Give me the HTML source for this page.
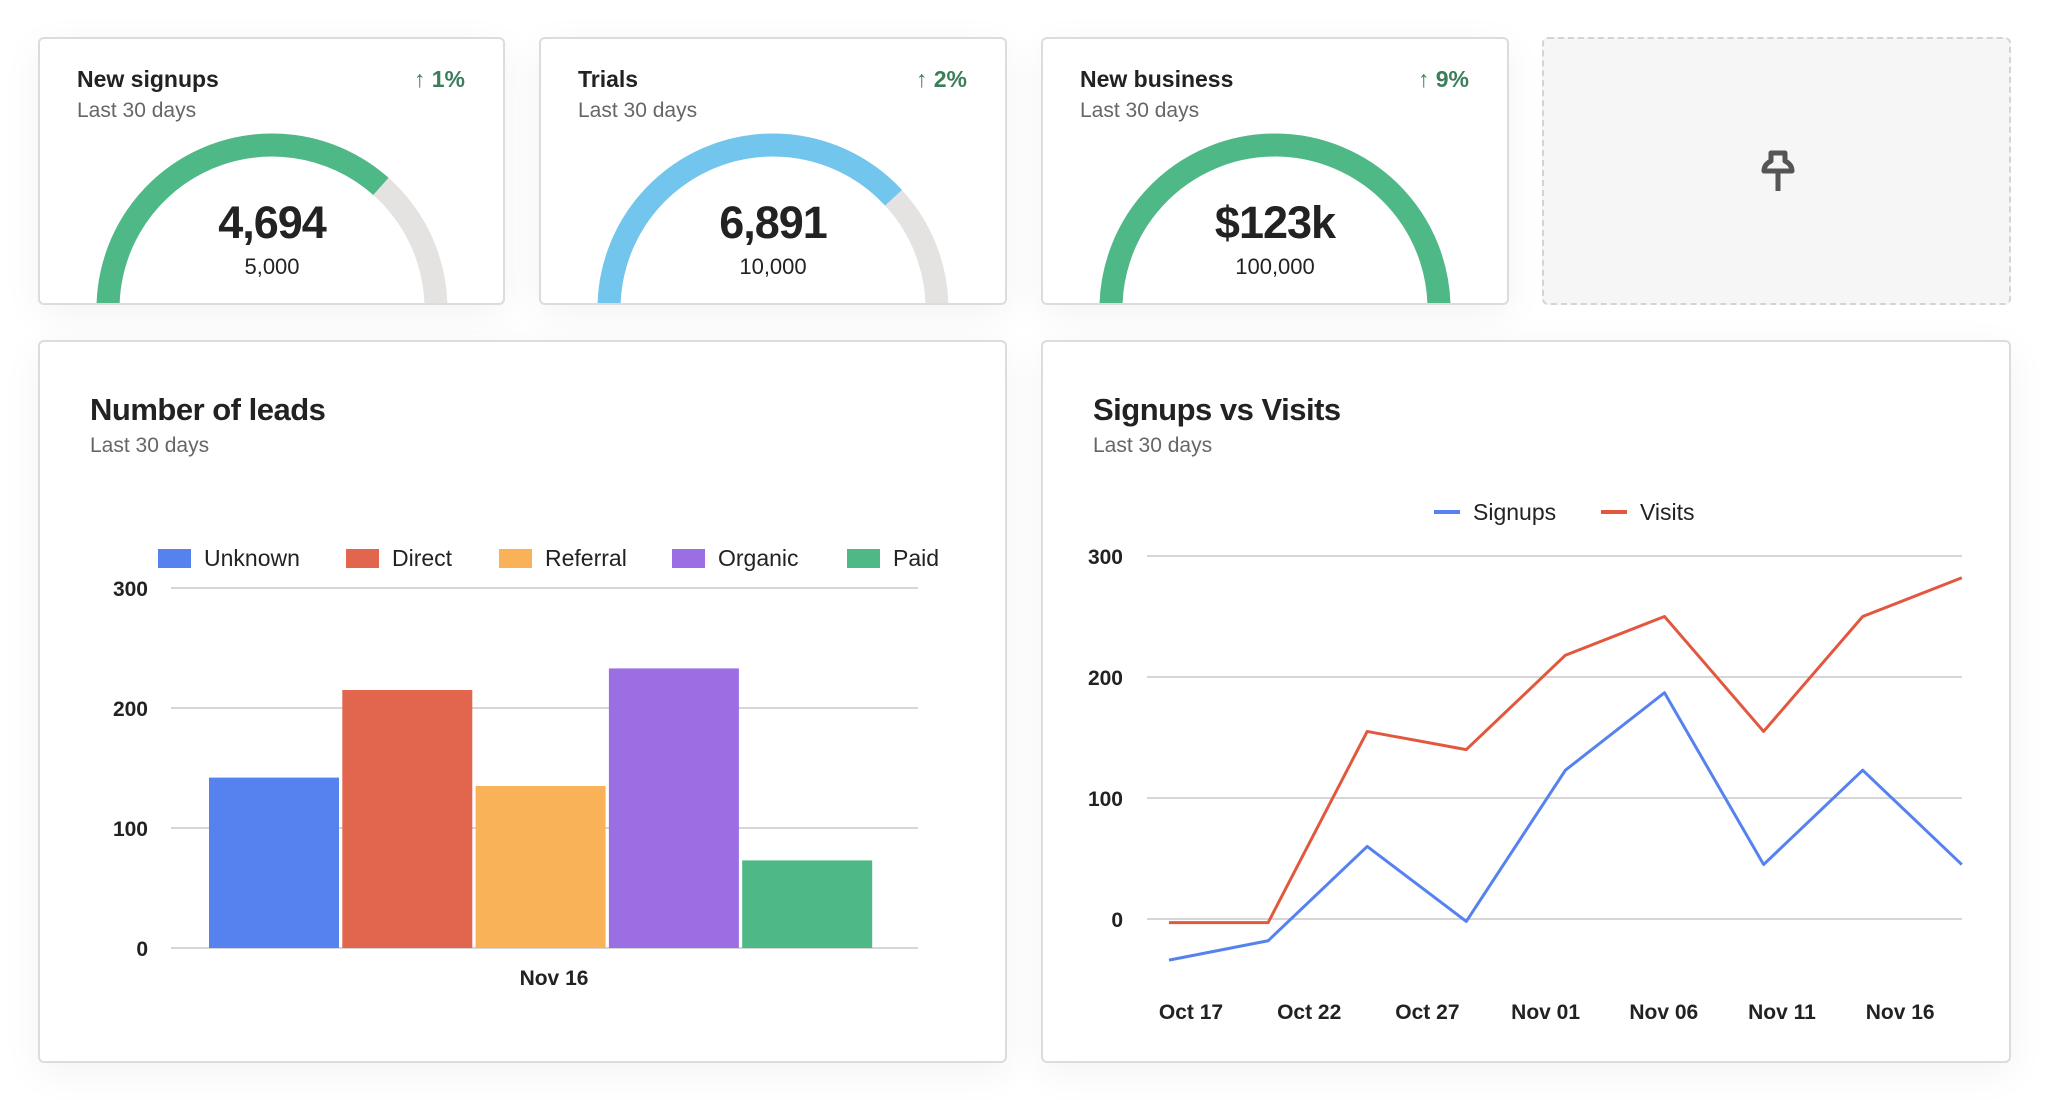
<!DOCTYPE html>
<html><head><meta charset="utf-8"><style>
body{margin:0;width:2048px;height:1100px;background:#fff;font-family:"Liberation Sans",sans-serif;position:relative;overflow:hidden}
.card{position:absolute;border:2px solid #dcdcdc;border-radius:6px;background:#fff;box-sizing:border-box;overflow:hidden;box-shadow:0 10px 40px rgba(0,0,0,0.05)}
.t{position:absolute;font-weight:bold;color:#222;font-size:23px;left:37px;top:27px}
.s{position:absolute;color:#666;font-size:21px;left:37px;top:60px}
.p{position:absolute;right:38px;top:27px;color:#3b7e5a;font-weight:bold;font-size:23px}
.bt{position:absolute;font-weight:bold;color:#222;font-size:31px;left:50px;top:50px;letter-spacing:-0.5px}
.bs{position:absolute;color:#666;font-size:21px;left:50px;top:92px}
svg text{font-family:"Liberation Sans",sans-serif}
</style></head><body>
<div class="card" style="left:38px;top:37px;width:467px;height:268px">
<div class="t">New signups</div><div class="s">Last 30 days</div><div class="p">↑ 1%</div>
<svg id="g0" width="467" height="268" style="position:absolute;left:0;top:0"></svg></div>
<div class="card" style="left:539px;top:37px;width:468px;height:268px">
<div class="t">Trials</div><div class="s">Last 30 days</div><div class="p">↑ 2%</div>
<svg id="g1" width="468" height="268" style="position:absolute;left:0;top:0"></svg></div>
<div class="card" style="left:1041px;top:37px;width:468px;height:268px">
<div class="t">New business</div><div class="s">Last 30 days</div><div class="p">↑ 9%</div>
<svg id="g2" width="468" height="268" style="position:absolute;left:0;top:0"></svg></div>
<div class="card" style="left:1542px;top:37px;width:469px;height:268px;border:2px dashed #d4d4d4;background:#f6f6f6;box-shadow:none">
<svg width="40" height="50" style="position:absolute;left:214px;top:110px"><path d="M13 4h14v8c4 2 7 5 7 10H6c0-5 3-8 7-10z M20 22v20" fill="none" stroke="#555" stroke-width="5" stroke-linejoin="round"/></svg></div>

<div class="card" style="left:38px;top:340px;width:969px;height:723px">
<div class="bt">Number of leads</div><div class="bs">Last 30 days</div></div>
<div class="card" style="left:1041px;top:340px;width:970px;height:723px">
<div class="bt">Signups vs Visits</div><div class="bs">Last 30 days</div></div>
<svg id="charts" width="2048" height="1100" style="position:absolute;left:0;top:0"></svg>
<script>
const NS="http://www.w3.org/2000/svg";
function mk(p,t,a){const e=document.createElementNS(NS,t);for(const k in a)e.setAttribute(k,a[k]);p.appendChild(e);return e;}
// gauges
const gaugeValues=["4,694","6,891","$123k"];
const gaugeTargets=["5,000","10,000","100,000"];
const gaugeFractions=[0.72,0.75,1.0];
const gaugeColors=["#4fb887","#72c5ec","#4fb887"];
gaugeFractions.forEach((f,i)=>{
 const s=document.getElementById('g'+i);const cx=232,cy=270,r=164;
 function pt(a){return [cx-r*Math.cos(a),cy-r*Math.sin(a)];}
 const a0=-0.08,a1=Math.PI+0.08,am=a0+(a1-a0)*f;
 const p0=pt(a0),p1=pt(a1),pm=pt(am);
 const lf1=(a1-a0)>Math.PI?1:0, lfm=(am-a0)>Math.PI?1:0;
 const bg=mk(s,'path',{d:`M${p0[0]} ${p0[1]} A${r} ${r} 0 ${lf1} 1 ${p1[0]} ${p1[1]}`,fill:'none',stroke:'#e4e3e2','stroke-width':23});
 
 const fg=mk(s,'path',{d:`M${p0[0]} ${p0[1]} A${r} ${r} 0 ${lfm} 1 ${pm[0]} ${pm[1]}`,fill:'none',stroke:gaugeColors[i],'stroke-width':23});
 
 const v=mk(s,'text',{x:cx,y:199,'text-anchor':'middle','font-size':45,'font-weight':'bold',fill:'#222','letter-spacing':-1});v.textContent=gaugeValues[i];
 
 const t=mk(s,'text',{x:cx,y:235,'text-anchor':'middle','font-size':22,fill:'#222'});t.textContent=gaugeTargets[i];
 
});
const C=document.getElementById('charts');
// bar chart
const barCategories=["Unknown","Direct","Referral","Organic","Paid"];
const barValues=[142,215,135,233,73];
const barColors=["#5582ef","#e2664d","#f9b257","#9b6fe3","#4fb887"];
const yTicks=[0,100,200,300];
const bY=v=>948-v*1.2, bX0=209, bW=130, bGap=3.3;
yTicks.forEach(v=>{
 const l=mk(C,'line',{x1:171,x2:918,y1:bY(v),y2:bY(v),stroke:'#d6d6d6','stroke-width':2});
 const t=mk(C,'text',{x:148,y:bY(v)+8,'text-anchor':'end','font-size':21,'font-weight':'bold',fill:'#222'});t.textContent=v;
});
barValues.forEach((v,i)=>{
 const r=mk(C,'rect',{x:bX0+i*(bW+bGap),y:bY(v),width:bW,height:v*1.2,fill:barColors[i]});
});
const legX=[158,346,499,672,847];
barCategories.forEach((c,i)=>{
 const r=mk(C,'rect',{x:legX[i],y:549,width:33,height:19,fill:barColors[i]});
 const t=mk(C,'text',{x:legX[i]+46,y:566,'font-size':23,fill:'#222'});t.textContent=c;
});
const xl=mk(C,'text',{x:554,y:985,'text-anchor':'middle','font-size':21,'font-weight':'bold',fill:'#222'});xl.textContent="Nov 16";
// line chart
const signups=[-34,-18,60,-2,123,187,45,123,45];
const visits=[-3,-3,155,140,218,250,155,250,282];
const xLabels=["Oct 17","Oct 22","Oct 27","Nov 01","Nov 06","Nov 11","Nov 16"];
const lY=v=>919-v*1.21, lX=i=>1169+i*99.1, labX=i=>1191+i*118.2;
yTicks.forEach(v=>{
 const l=mk(C,'line',{x1:1147,x2:1962,y1:lY(v),y2:lY(v),stroke:'#d6d6d6','stroke-width':2});
 const t=mk(C,'text',{x:1123,y:lY(v)+8,'text-anchor':'end','font-size':21,'font-weight':'bold',fill:'#222'});t.textContent=v;
});
xLabels.forEach((s,i)=>{const t=mk(C,'text',{x:labX(i),y:1019,'text-anchor':'middle','font-size':21,'font-weight':'bold',fill:'#222'});t.textContent=s;});
[[visits,'#e2583e','visits-line'],[signups,'#5582ef','signups-line']].forEach(([d,c,n])=>{
 const p=mk(C,'polyline',{points:d.map((v,i)=>lX(i)+','+lY(v)).join(' '),fill:'none',stroke:c,'stroke-width':3,'stroke-linejoin':'round'});
});
[["Signups",'#5582ef',1434],["Visits",'#e2583e',1601]].forEach(([s,c,x])=>{
 const l=mk(C,'line',{x1:x,x2:x+26,y1:512,y2:512,stroke:c,'stroke-width':4});
 const t=mk(C,'text',{x:x+39,y:520,'font-size':23,fill:'#222'});t.textContent=s;
});
</script>
</body></html>
